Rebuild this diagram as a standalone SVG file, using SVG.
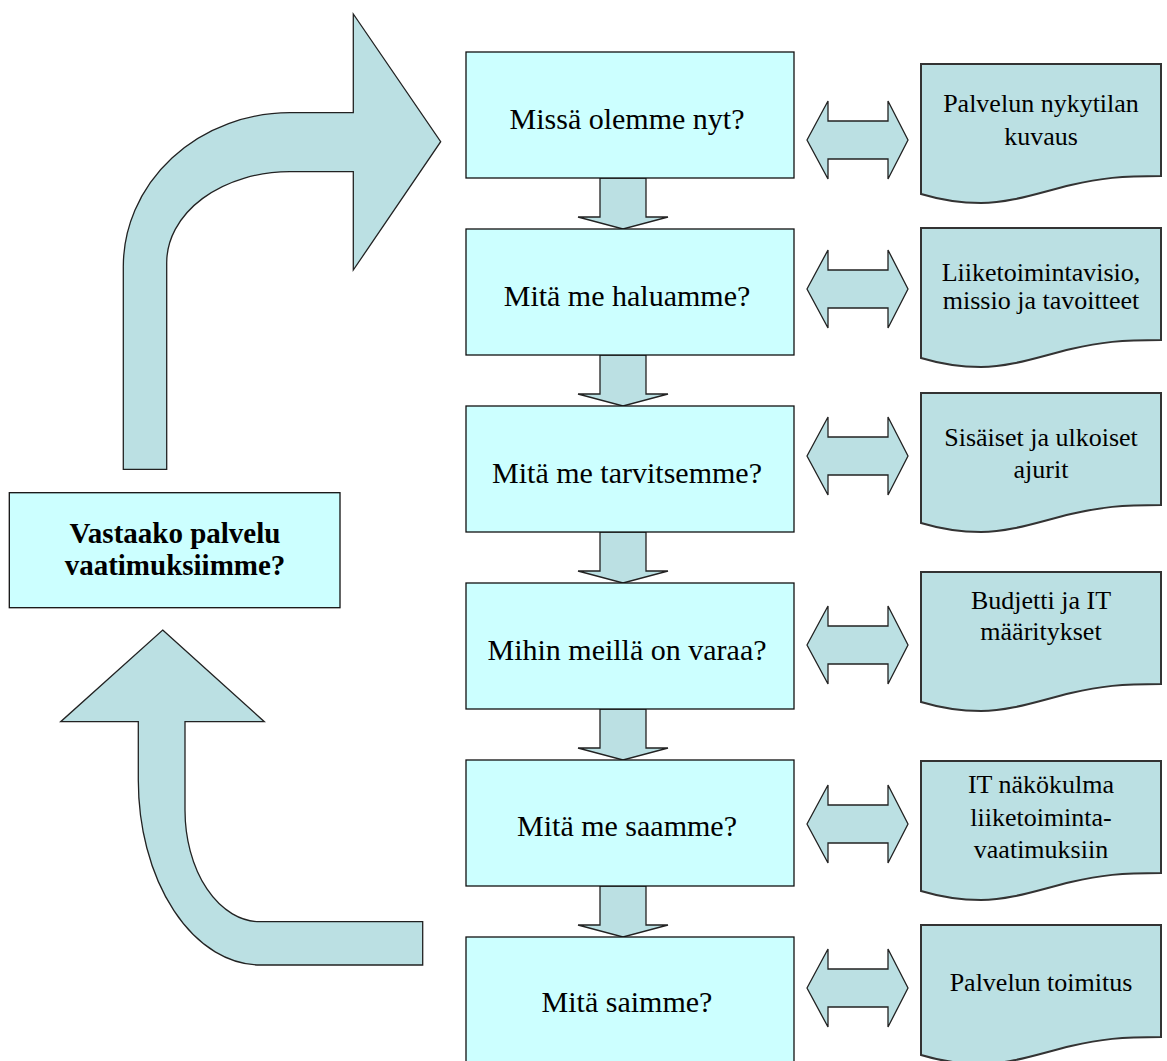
<svg xmlns="http://www.w3.org/2000/svg" width="1167" height="1061" viewBox="0 0 1167 1061">
  <style>
    .step { fill: #CCFFFF; stroke: #111; stroke-width: 1.3; }
    .doc { fill: #BBE0E3; stroke: #333; stroke-width: 2; }
    .arrow { fill: #BBE0E3; stroke: #222; stroke-width: 1.3; stroke-linejoin: miter; }
    .stepText { font-family: "Liberation Serif", "Times New Roman", serif; font-size: 30px; fill: #000; text-anchor: middle; }
    .loopText { font-family: "Liberation Serif", "Times New Roman", serif; font-size: 29px; font-weight: bold; fill: #000; text-anchor: middle; }
    .docText { font-family: "Liberation Serif", "Times New Roman", serif; font-size: 26px; fill: #000; text-anchor: middle; }
  </style>
  <defs>
    <!-- document shape: flat top, wavy bottom (local coords, 240 x 139) -->
    <path id="docShape" d="M0,0 H240 V112 C200,112 180,114 150,121 S90,139 60,139 C40,139 20,136 0,130 Z"/>
    <!-- two-headed horizontal arrow centred on y = 0 -->
    <path id="dblArrow" d="M807,0 L828,-39 L828,-19 L888,-19 L888,-39 L908,0 L888,39 L888,19 L828,19 L828,39 Z"/>
  </defs>

  <rect width="1167" height="1061" fill="#FFFFFF"/>

  <g id="connectors">
    <!-- loop arrow back up into the first step -->
    <path class="arrow" d="M123.3,469.3 L123.3,267 A167,154 0 0 1 290,112.7 L353.3,112.7 L353.3,14 L440.7,141.7 L353.3,270 L353.3,171.7 L290,171.7 A123,91 0 0 0 166.7,263 L166.7,469.3 Z"/>
    <!-- loop arrow from the last step up to the check box -->
    <path class="arrow" d="M162.7,630 L264.3,721.7 L185,721.7 L185,810 A75,111.7 0 0 0 260,921.7 L422.7,921.7 L422.7,965 L260,965 A122,185 0 0 1 138.3,780 L138.3,721.7 L60.7,721.7 Z"/>

    <!-- downward arrows between steps -->
    <path class="arrow" d="M600,178 L646,178 L646,217 L668,217 L623,229 L578,217 L600,217 Z"/>
    <path class="arrow" d="M600,355 L646,355 L646,394 L668,394 L623,406 L578,394 L600,394 Z"/>
    <path class="arrow" d="M600,532 L646,532 L646,571 L668,571 L623,583 L578,571 L600,571 Z"/>
    <path class="arrow" d="M600,709 L646,709 L646,748 L668,748 L623,760 L578,748 L600,748 Z"/>
    <path class="arrow" d="M600,886 L646,886 L646,925 L668,925 L623,937 L578,925 L600,925 Z"/>

    <!-- two-way arrows between steps and documents -->
    <use href="#dblArrow" class="arrow" transform="translate(0,140)"/>
    <use href="#dblArrow" class="arrow" transform="translate(0,289)"/>
    <use href="#dblArrow" class="arrow" transform="translate(0,456)"/>
    <use href="#dblArrow" class="arrow" transform="translate(0,645)"/>
    <use href="#dblArrow" class="arrow" transform="translate(0,824)"/>
    <use href="#dblArrow" class="arrow" transform="translate(0,988)"/>
  </g>

  <!-- check box on the left -->
  <g id="node-check">
    <rect class="step" x="9.3" y="492.7" width="330.7" height="115"/>
    <text class="loopText" x="175" y="543">Vastaako palvelu</text>
    <text class="loopText" x="175" y="575">vaatimuksiimme?</text>
  </g>

  <!-- process steps -->
  <g id="node-step1">
    <rect class="step" x="466" y="52" width="328" height="126"/>
    <text class="stepText" x="627" y="129">Missä olemme nyt?</text>
  </g>
  <g id="node-step2">
    <rect class="step" x="466" y="229" width="328" height="126"/>
    <text class="stepText" x="627" y="306">Mitä me haluamme?</text>
  </g>
  <g id="node-step3">
    <rect class="step" x="466" y="406" width="328" height="126"/>
    <text class="stepText" x="627" y="483">Mitä me tarvitsemme?</text>
  </g>
  <g id="node-step4">
    <rect class="step" x="466" y="583" width="328" height="126"/>
    <text class="stepText" x="627" y="660">Mihin meillä on varaa?</text>
  </g>
  <g id="node-step5">
    <rect class="step" x="466" y="760" width="328" height="126"/>
    <text class="stepText" x="627" y="836">Mitä me saamme?</text>
  </g>
  <g id="node-step6">
    <rect class="step" x="466" y="937" width="328" height="130"/>
    <text class="stepText" x="627" y="1012">Mitä saimme?</text>
  </g>

  <!-- documents -->
  <g id="node-doc1">
    <use href="#docShape" class="doc" transform="translate(921,64)"/>
    <text class="docText" x="1041" y="112">Palvelun nykytilan</text>
    <text class="docText" x="1041" y="145">kuvaus</text>
  </g>
  <g id="node-doc2">
    <use href="#docShape" class="doc" transform="translate(921,228)"/>
    <text class="docText" x="1041" y="281">Liiketoimintavisio,</text>
    <text class="docText" x="1041" y="309">missio ja tavoitteet</text>
  </g>
  <g id="node-doc3">
    <use href="#docShape" class="doc" transform="translate(921,393)"/>
    <text class="docText" x="1041" y="446">Sisäiset ja ulkoiset</text>
    <text class="docText" x="1041" y="478">ajurit</text>
  </g>
  <g id="node-doc4">
    <use href="#docShape" class="doc" transform="translate(921,572)"/>
    <text class="docText" x="1041" y="609">Budjetti ja IT</text>
    <text class="docText" x="1041" y="640">määritykset</text>
  </g>
  <g id="node-doc5">
    <use href="#docShape" class="doc" transform="translate(921,761)"/>
    <text class="docText" x="1041" y="793">IT näkökulma</text>
    <text class="docText" x="1041" y="826">liiketoiminta-</text>
    <text class="docText" x="1041" y="858">vaatimuksiin</text>
  </g>
  <g id="node-doc6">
    <use href="#docShape" class="doc" transform="translate(921,925)"/>
    <text class="docText" x="1041" y="991">Palvelun toimitus</text>
  </g>
</svg>
